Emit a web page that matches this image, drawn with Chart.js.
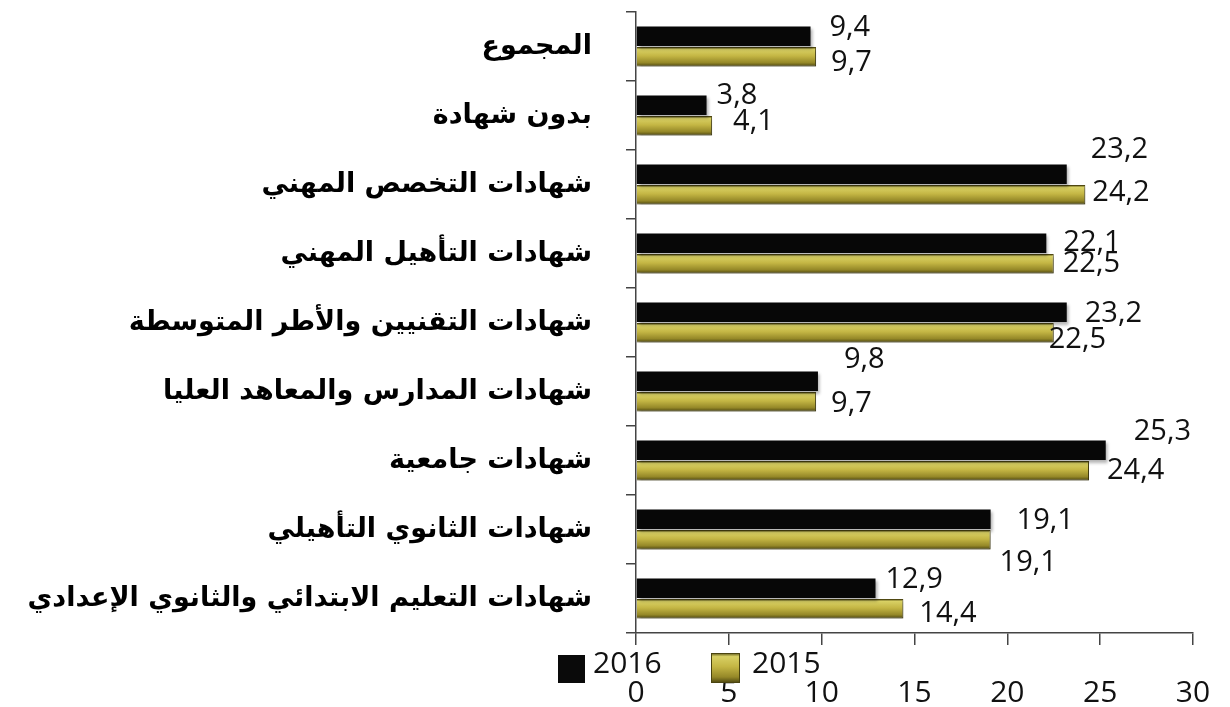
<!DOCTYPE html>
<html>
<head>
<meta charset="utf-8">
<script src="https://cdn.jsdelivr.net/npm/chart.js@4"></script>
<style>
  html, body { margin: 0; padding: 0; background: #fff; }
  #c { display: block; }
</style>
</head>
<body>
<canvas id="c" width="1230" height="707"></canvas>
<script>
const categories = [
  "المجموع",
  "بدون شهادة",
  "شهادات التخصص المهني",
  "شهادات التأهيل المهني",
  "شهادات التقنيين والأطر المتوسطة",
  "شهادات المدارس والمعاهد العليا",
  "شهادات جامعية",
  "شهادات الثانوي التأهيلي",
  "شهادات التعليم الابتدائي والثانوي الإعدادي"
];
const values2016 = [9.4, 3.8, 23.2, 22.1, 23.2, 9.8, 25.3, 19.1, 12.9];
const values2015 = [9.7, 4.1, 24.2, 22.5, 22.5, 9.7, 24.4, 19.1, 14.4];
const seriesNames = ["2016", "2015"];

// where each value label sits relative to the bar end (dx, dy in px)
const nudge2016 = [[19,-8],[10,-9],[24,-24],[17,0],[18,2],[26,-21],[28,-18],[26,2],[10,-8]];
const nudge2015 = [[15,6],[21,-4],[7,-2],[9,0],[-5,7],[15,2],[18,0],[9,23],[16,5]];

const numFont = "'Open Sans', 'Noto Sans', sans-serif";

function oliveGradient(ctx, top, bottom) {
  const g = ctx.createLinearGradient(0, top, 0, bottom);
  g.addColorStop(0, "#5a5418");
  g.addColorStop(0.12, "#d8d064");
  g.addColorStop(0.45, "#c4b644");
  g.addColorStop(0.8, "#958828");
  g.addColorStop(1, "#4a4410");
  return g;
}

const barLook = {
  id: "barLook",
  beforeDatasetsDraw(chart) {
    const ctx = chart.ctx;
    chart.getDatasetMeta(1).data.forEach(el => {
      const h = el.height;
      el.options = Object.assign({}, el.options, {
        backgroundColor: oliveGradient(ctx, el.y - h / 2, el.y + h / 2)
      });
    });
    ctx.save();
    ctx.shadowColor = "rgba(0,0,0,0.3)";
    ctx.shadowOffsetX = 2;
    ctx.shadowOffsetY = 3;
    ctx.shadowBlur = 3;
  },
  afterDatasetsDraw(chart) {
    const ctx = chart.ctx;
    ctx.restore();
    ctx.save();
    ctx.fillStyle = "#111";
    ctx.font = "29px " + numFont;
    ctx.textAlign = "left";
    ctx.textBaseline = "middle";
    [nudge2016, nudge2015].forEach((nudge, di) => {
      const vals = chart.data.datasets[di].data;
      chart.getDatasetMeta(di).data.forEach((el, i) => {
        const txt = vals[i].toFixed(1).replace(".", ",");
        ctx.fillText(txt, el.x + nudge[i][0], el.y + nudge[i][1]);
      });
    });
    // legend
    ctx.fillStyle = "#0a0a0a";
    ctx.fillRect(558, 655, 27, 28);
    ctx.fillStyle = oliveGradient(ctx, 653, 683);
    ctx.fillRect(711, 653, 29, 30);
    ctx.strokeStyle = "#4a4410";
    ctx.strokeRect(711.5, 653.5, 28, 29);
    ctx.fillStyle = "#111";
    ctx.font = "30px " + numFont;
    ctx.fillText(seriesNames[0], 593, 664);
    ctx.fillText(seriesNames[1], 752, 664);
    ctx.restore();
  }
};

new Chart(document.getElementById("c"), {
  type: "bar",
  data: {
    labels: categories,
    datasets: [
      { label: seriesNames[0], data: values2016, backgroundColor: "#070707", borderWidth: 0 },
      { label: seriesNames[1], data: values2015, backgroundColor: "#b8ab3c", borderColor: "#4f4812", borderWidth: 1 }
    ]
  },
  options: {
    indexAxis: "y",
    responsive: false,
    animation: false,
    devicePixelRatio: 1,
    layout: { padding: { top: 12, right: 37, left: 0, bottom: 0 } },
    datasets: { bar: { categoryPercentage: 0.6, barPercentage: 0.94 } },
    plugins: { legend: { display: false }, tooltip: { enabled: false } },
    scales: {
      x: {
        min: 0, max: 30,
        ticks: { stepSize: 5, color: "#111", font: { family: numFont, size: 30 }, padding: 30 },
        grid: { drawOnChartArea: false, tickLength: 12, color: "#444", lineWidth: 1.5 },
        border: { color: "#444", width: 1.5 },
        afterFit(scale) {
          scale.height = 74;
          scale.paddingLeft = 0;
          scale.paddingRight = 0;
        }
      },
      y: {
        ticks: { color: "#000", font: { family: "'DejaVu Sans', sans-serif", size: 27, weight: "bold" }, padding: 34 },
        grid: { drawOnChartArea: false, tickLength: 10, color: "#444", lineWidth: 1.5 },
        border: { color: "#444", width: 1.5 },
        afterFit(scale) {
          scale.width = 636;
          scale.paddingTop = 0;
          scale.paddingBottom = 0;
        }
      }
    }
  },
  plugins: [barLook]
});
</script>
</body>
</html>
